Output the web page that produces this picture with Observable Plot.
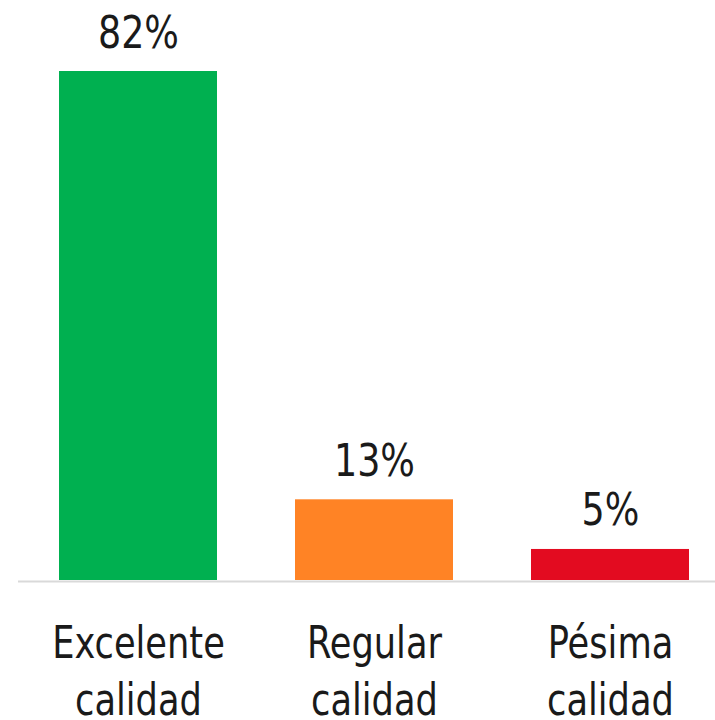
<!DOCTYPE html>
<html>
<head>
<meta charset="utf-8">
<script src="https://cdn.jsdelivr.net/npm/d3@7"></script>
<script src="https://cdn.jsdelivr.net/npm/@observablehq/plot@0.6"></script>
<style>
  html, body { margin: 0; padding: 0; background: #fff; }
  #chart svg { display: block; }
</style>
</head>
<body>
<div id="chart"></div>
<script>
const categories = ["Excelente\ncalidad", "Regular\ncalidad", "Pésima\ncalidad"];
const values = [82, 13, 5];
const colors = ["#00b050", "#ff8325", "#e30b20"];

const data = categories.map((c, i) => ({category: c, value: values[i], color: colors[i]}));
const font = "'DejaVu Sans Condensed', 'DejaVu Sans', sans-serif";

const chart = Plot.plot({
  width: 715,
  height: 720,
  marginLeft: 18,
  marginRight: 0,
  marginTop: 0,
  marginBottom: 0,
  style: {fontFamily: font, background: "#fff"},
  x: {domain: categories, range: [18.75, 728.25], paddingInner: 0.332, paddingOuter: 0.166, axis: null},
  y: {domain: [0, d3.max(values)], range: [580, 71], axis: null},
  marks: [
    Plot.barY(data, {x: "category", y: "value", fill: "color"}),
    Plot.ruleY([0], {stroke: "#d9d9d9", strokeWidth: 2, dy: 1}),
    Plot.text(data, {x: "category", y: "value", text: d => d.value + "%", dy: -24, lineAnchor: "bottom", fontSize: 45, fill: "#1a1a1a", className: "vlabel"}),
    Plot.text(data, {x: "category", y: () => 0, text: "category", dy: 37, lineAnchor: "top", lineHeight: 1.27, fontSize: 45, fill: "#1a1a1a", className: "clabel"})
  ]
});
d3.select(chart).selectAll(".vlabel text").attr("transform", function() { return (this.getAttribute("transform") || "") + " scale(0.9,1)"; });
d3.select(chart).selectAll(".clabel text").attr("transform", function() { return (this.getAttribute("transform") || "") + " scale(0.87,1)"; });
document.getElementById("chart").appendChild(chart);
</script>
</body>
</html>
